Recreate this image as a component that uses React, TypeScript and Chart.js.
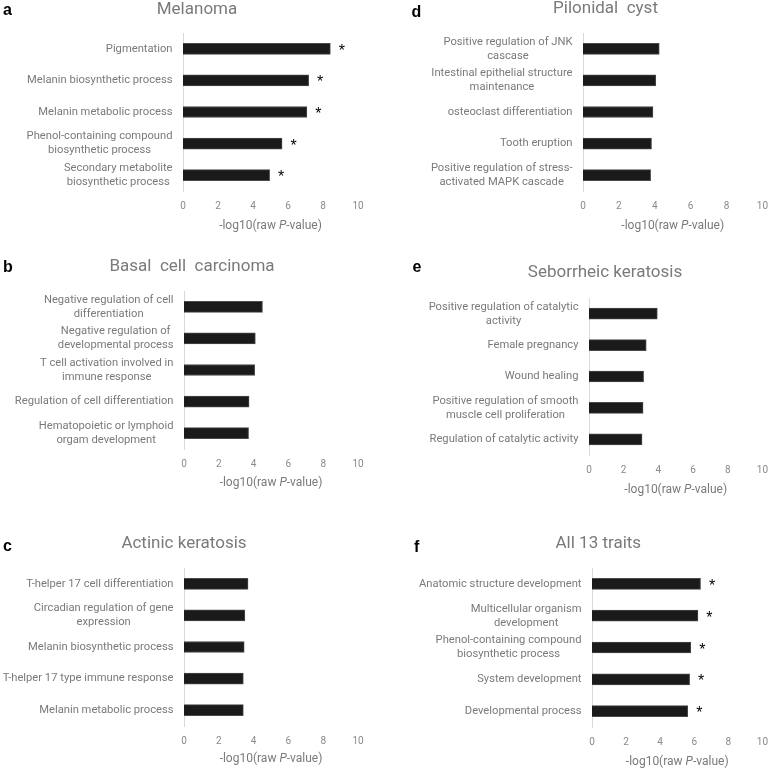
import React, { useEffect, useRef } from "react";
import { Chart, registerables } from "chart.js";

Chart.register(...registerables);

// ---------- data ----------
const xTicks = [0, 2, 4, 6, 8, 10];

const melanomaLabels = [
  "Pigmentation",
  "Melanin biosynthetic process",
  "Melanin metabolic process",
  ["Phenol-containing compound", "biosynthetic process"],
  ["Secondary metabolite", "biosynthetic process"],
];
const melanomaValues = [8.42, 7.18, 7.08, 5.66, 4.95];
const melanomaSig = [true, true, true, true, true];

const bccLabels = [
  ["Negative regulation of cell", "differentiation"],
  ["Negative regulation of", "developmental process"],
  ["T cell activation involved in", "immune response"],
  "Regulation of cell differentiation",
  ["Hematopoietic or lymphoid", "orgam development"],
];
const bccValues = [4.51, 4.1, 4.06, 3.74, 3.71];
const bccSig = [false, false, false, false, false];

const akLabels = [
  "T-helper 17 cell differentiation",
  ["Circadian regulation of gene", "expression"],
  "Melanin biosynthetic process",
  "T-helper 17 type immune response",
  "Melanin metabolic process",
];
const akValues = [3.68, 3.5, 3.46, 3.41, 3.41];
const akSig = [false, false, false, false, false];

const pcLabels = [
  ["Positive regulation of JNK", "cascase"],
  ["Intestinal epithelial structure", "maintenance"],
  "osteoclast differentiation",
  "Tooth eruption",
  ["Positive regulation of stress-", "activated MAPK cascade"],
];
const pcValues = [4.25, 4.06, 3.9, 3.82, 3.77];
const pcSig = [false, false, false, false, false];

const skLabels = [
  ["Positive regulation of catalytic", "activity"],
  "Female pregnancy",
  "Wound healing",
  ["Positive regulation of smooth", "muscle cell proliferation"],
  "Regulation of catalytic activity",
];
const skValues = [3.94, 3.3, 3.15, 3.12, 3.06];
const skSig = [false, false, false, false, false];

const allLabels = [
  "Anatomic structure development",
  ["Multicellular organism", "development"],
  ["Phenol-containing compound", "biosynthetic process"],
  "System development",
  "Developmental process",
];
const allValues = [6.37, 6.22, 5.8, 5.73, 5.62];
const allSig = [true, true, true, true, true];

// ---------- layout / style ----------
const FONT = "Roboto, 'Open Sans', sans-serif";
const TEXT_GREY = "#7a7a7a";
const TICK_GREY = "#8a8a8a";
const X_AXIS_H = 20;

type Box = { x: number; y: number; w: number; h: number };
type Area = { l: number; r: number; t: number; b: number };
type Panel = {
  letter: string;
  title: string;
  labels: (string | string[])[];
  values: number[];
  sig: boolean[];
  box: Box;
  area: Area;
  titleX: number;
  titleBase: number;
  letterX: number;
  letterBase: number;
  xTitleDy: number;
};

const panels: Panel[] = [
  {
    letter: "a", title: "Melanoma", labels: melanomaLabels, values: melanomaValues, sig: melanomaSig,
    box: { x: 0, y: 0, w: 390, h: 240 }, area: { l: 183, r: 358, t: 33, b: 191 },
    titleX: 197, titleBase: 13.5, letterX: 3, letterBase: 15, xTitleDy: 34.5,
  },
  {
    letter: "b", title: "Basal  cell  carcinoma", labels: bccLabels, values: bccValues, sig: bccSig,
    box: { x: 0, y: 240, w: 390, h: 270 }, area: { l: 184, r: 358, t: 291, b: 449 },
    titleX: 192, titleBase: 270.5, letterX: 3, letterBase: 271.5, xTitleDy: 33.5,
  },
  {
    letter: "c", title: "Actinic keratosis", labels: akLabels, values: akValues, sig: akSig,
    box: { x: 0, y: 510, w: 390, h: 259 }, area: { l: 184, r: 358, t: 568, b: 726 },
    titleX: 184, titleBase: 547.5, letterX: 3, letterBase: 551, xTitleDy: 33,
  },
  {
    letter: "d", title: "Pilonidal  cyst", labels: pcLabels, values: pcValues, sig: pcSig,
    box: { x: 390, y: 0, w: 387, h: 240 }, area: { l: 583, r: 770, t: 33, b: 191 },
    titleX: 605.5, titleBase: 12.7, letterX: 411.5, letterBase: 16.7, xTitleDy: 34.5,
  },
  {
    letter: "e", title: "Seborrheic keratosis", labels: skLabels, values: skValues, sig: skSig,
    box: { x: 390, y: 240, w: 387, h: 270 }, area: { l: 589, r: 770, t: 298, b: 455 },
    titleX: 605, titleBase: 277.3, letterX: 412.5, letterBase: 271.7, xTitleDy: 34.5,
  },
  {
    letter: "f", title: "All 13 traits", labels: allLabels, values: allValues, sig: allSig,
    box: { x: 390, y: 510, w: 387, h: 259 }, area: { l: 592, r: 770, t: 568, b: 727 },
    titleX: 598.3, titleBase: 547.7, letterX: 414, letterBase: 551.7, xTitleDy: 34.5,
  },
];

function makePlugin(p: Panel) {
  return {
    id: "panelDecor" + p.letter,
    afterDraw(chart: any) {
      const ctx: CanvasRenderingContext2D = chart.ctx;
      const ca = chart.chartArea;
      ctx.save();

      // panel title
      ctx.fillStyle = TEXT_GREY;
      ctx.font = `17px ${FONT}`;
      ctx.textAlign = "center";
      ctx.textBaseline = "alphabetic";
      ctx.fillText(p.title, p.titleX - p.box.x, p.titleBase - p.box.y);

      // panel letter
      ctx.fillStyle = "#000";
      ctx.font = `bold 16px 'Liberation Sans', Arial, sans-serif`;
      ctx.textAlign = "left";
      ctx.fillText(p.letter, p.letterX - p.box.x, p.letterBase - p.box.y);

      // category labels (block right-aligned, lines centered)
      const yScale = chart.scales.y;
      ctx.font = `11.2px ${FONT}`;
      ctx.fillStyle = TEXT_GREY;
      ctx.textAlign = "center";
      ctx.textBaseline = "middle";
      const lineH = 14;
      p.labels.forEach((lab, i) => {
        const lines = Array.isArray(lab) ? lab : [lab];
        const maxW = Math.max(...lines.map((s) => ctx.measureText(s).width));
        const right = ca.left - 10.5;
        const cx = right - maxW / 2;
        const cy = yScale.getPixelForValue(i);
        lines.forEach((s, j) => {
          ctx.fillText(s, cx, cy + (j - (lines.length - 1) / 2) * lineH);
        });
      });

      // significance asterisks
      const meta = chart.getDatasetMeta(0);
      ctx.fillStyle = "#000";
      ctx.font = `16px 'Liberation Sans', Arial, sans-serif`;
      ctx.textAlign = "center";
      ctx.textBaseline = "alphabetic";
      p.sig.forEach((s, i) => {
        if (!s) return;
        const bar = meta.data[i];
        ctx.fillText("*", bar.x + 11.5, bar.y + 7);
      });

      // x-axis title with italic P
      const parts = [
        { t: "-log10(raw ", f: `12px ${FONT}` },
        { t: "P", f: `italic 12px ${FONT}` },
        { t: "-value)", f: `12px ${FONT}` },
      ];
      let total = 0;
      const widths = parts.map((pt) => {
        ctx.font = pt.f;
        const w = ctx.measureText(pt.t).width;
        total += w;
        return w;
      });
      let x = (ca.left + ca.right) / 2 - total / 2;
      const ty = ca.bottom + p.xTitleDy;
      ctx.fillStyle = TEXT_GREY;
      ctx.textAlign = "left";
      ctx.textBaseline = "middle";
      parts.forEach((pt, k) => {
        ctx.font = pt.f;
        ctx.fillText(pt.t, x, ty);
        x += widths[k];
      });

      ctx.restore();
    },
  };
}

function PanelChart({ p }: { p: Panel }) {
  const ref = useRef<HTMLCanvasElement | null>(null);
  useEffect(() => {
    if (!ref.current) return;
    const { box, area } = p;
    const chart = new Chart(ref.current, {
      type: "bar",
      data: {
        labels: p.labels as any,
        datasets: [
          {
            data: p.values,
            backgroundColor: "#1a1a1a",
            borderColor: "#4a4a4a",
            borderWidth: 1,
            barThickness: 11,
          },
        ],
      },
      options: {
        indexAxis: "y",
        responsive: false,
        animation: false,
        devicePixelRatio: 1,
        layout: {
          padding: {
            left: 0,
            top: area.t - box.y,
            right: box.x + box.w - area.r,
            bottom: box.y + box.h - area.b - X_AXIS_H,
          },
        },
        plugins: {
          legend: { display: false },
          tooltip: { enabled: false },
          title: { display: false },
        },
        scales: {
          x: {
            type: "linear",
            min: xTicks[0],
            max: xTicks[xTicks.length - 1],
            afterBuildTicks: (s: any) => {
              s.ticks = xTicks.map((v) => ({ value: v }));
            },
            ticks: {
              color: TICK_GREY,
              font: { family: FONT, size: 10 },
              padding: 9,
              maxRotation: 0,
            },
            grid: { display: false, drawTicks: false },
            border: { display: false },
            afterFit: (s: any) => {
              s.height = X_AXIS_H;
            },
          },
          y: {
            type: "category",
            ticks: { display: false },
            grid: { display: false, drawTicks: false },
            border: { display: true, color: "#d9d9d9", width: 1 },
            afterFit: (s: any) => {
              s.width = area.l - box.x;
            },
          },
        },
      } as any,
      plugins: [makePlugin(p)],
    });
    return () => chart.destroy();
  }, [p]);
  return (
    <canvas
      ref={ref}
      width={p.box.w}
      height={p.box.h}
      style={{
        position: "absolute",
        left: p.box.x,
        top: p.box.y,
        width: p.box.w,
        height: p.box.h,
      }}
    />
  );
}

export default function App() {
  return (
    <div
      style={{
        position: "absolute",
        left: 0,
        top: 0,
        width: 777,
        height: 769,
        background: "#fff",
        overflow: "hidden",
      }}
    >
      {panels.map((p) => (
        <PanelChart key={p.letter} p={p} />
      ))}
    </div>
  );
}
